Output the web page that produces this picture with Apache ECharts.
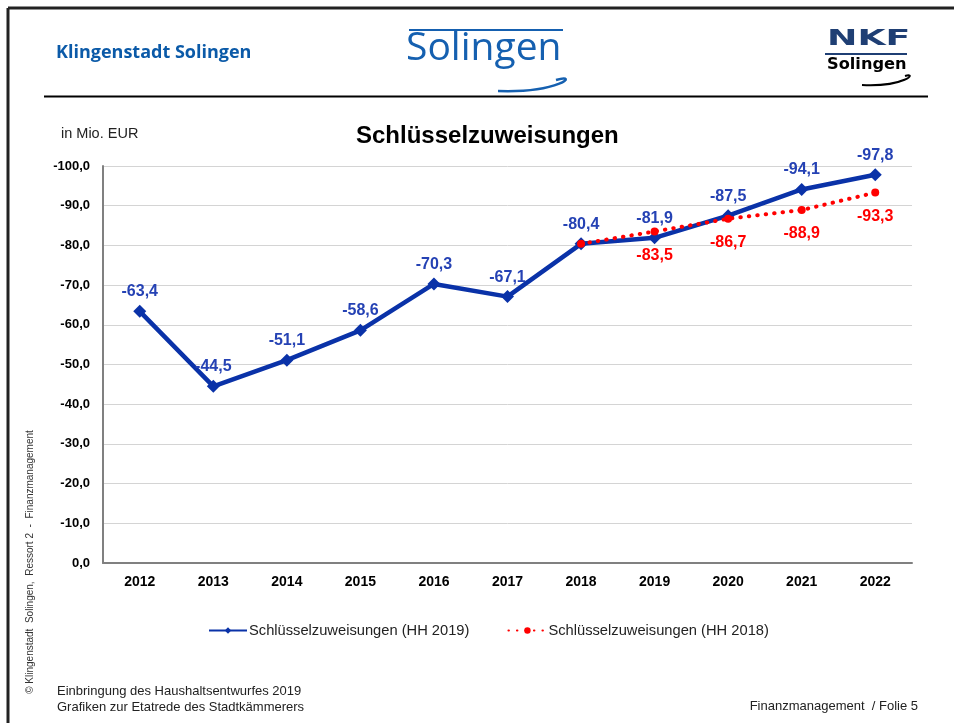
<!DOCTYPE html>
<html>
<head>
<meta charset="utf-8">
<script src="https://cdn.jsdelivr.net/npm/echarts@6/dist/echarts.min.js"></script>
<style>
  html, body { margin: 0; padding: 0; background: #fff; }
  #chart { width: 954px; height: 723px; }
</style>
</head>
<body>
<div id="chart"></div>
<script>
// data (values in Mio. EUR, negative = Zuweisung)
const years = ['2012', '2013', '2014', '2015', '2016', '2017', '2018', '2019', '2020', '2021', '2022']
const hh2019 = [-63.4, -44.5, -51.1, -58.6, -70.3, -67.1, -80.4, -81.9, -87.5, -94.1, -97.8]
const hh2018 = ['-', '-', '-', '-', '-', '-', -80.4, -83.5, -86.7, -88.9, -93.3]
const name2019 = 'Schlüsselzuweisungen (HH 2019)'
const name2018 = 'Schlüsselzuweisungen (HH 2018)'

const blue = '#0a32a8'
const red = '#ff0000'
const fmt = v => v.toFixed(1).replace('.', ',')

const chart = echarts.init(document.getElementById('chart'))

const option = {
    backgroundColor: '#fff',
    animation: false,
    textStyle: { fontFamily: 'Liberation Sans, Arial, sans-serif' },
    title: {
        text: 'Schlüsselzuweisungen',
        left: 351,
        top: 119,
        textStyle: { fontSize: 24, fontWeight: 'bold', color: '#000' }
    },
    legend: {
        top: 618,
        left: 203,
        itemGap: 38,
        itemWidth: 38,
        itemHeight: 8,
        textStyle: { fontSize: 14.7, color: '#222', padding: [0, 0, 0, -3] },
        data: [name2019, name2018]
    },
    grid: { left: 103, right: 42, top: 166, bottom: 160 },
    xAxis: {
        type: 'category',
        data: years,
        axisLine: { lineStyle: { color: '#808080', width: 2 } },
        axisTick: { show: false },
        axisLabel: { fontSize: 14, fontWeight: 'bold', color: '#000', margin: 12 }
    },
    yAxis: {
        type: 'value',
        inverse: true,
        min: -100,
        max: 0,
        interval: 10,
        axisLine: { show: true, lineStyle: { color: '#808080', width: 2 } },
        axisTick: { show: false },
        splitLine: { lineStyle: { color: '#d4d4d4', width: 1 } },
        axisLabel: {
            fontSize: 13, fontWeight: 'bold', color: '#000', margin: 13,
            formatter: v => fmt(v)
        }
    },
    series: [
        {
            name: name2018,
            type: 'line',
            data: hh2018,
            z: 3,
            symbol: 'circle',
            symbolSize: 8,
            itemStyle: { color: red },
            lineStyle: { color: red, width: 4, type: [0.5, 8], cap: 'round' },
            label: {
                show: true,
                position: 'bottom',
                distance: 12,
                fontSize: 16,
                fontWeight: 'bold',
                color: red,
                formatter: p => (p.dataIndex === 6 ? '' : fmt(p.value))
            }
        },
        {
            name: name2019,
            type: 'line',
            data: hh2019,
            z: 2,
            symbol: 'diamond',
            symbolSize: 13,
            itemStyle: { color: blue },
            lineStyle: { color: blue, width: 4.5 },
            label: {
                show: true,
                position: 'top',
                distance: 5,
                fontSize: 16,
                fontWeight: 'bold',
                color: '#2542b4',
                formatter: p => fmt(p.value)
            }
        }
    ],
    graphic: [
        // frame on left and top
        { type: 'line', shape: { x1: 8, y1: 8, x2: 954, y2: 8 }, style: { stroke: '#222', lineWidth: 3 } },
        { type: 'line', shape: { x1: 8, y1: 8, x2: 8, y2: 723 }, style: { stroke: '#222', lineWidth: 3 } },
        // header rule
        { type: 'line', shape: { x1: 44, y1: 96.5, x2: 928, y2: 96.5 }, style: { stroke: '#000', lineWidth: 2 } },
        {
            type: 'text', left: 56, top: 44,
            style: { text: 'Klingenstadt Solingen', fill: '#0b5aa8', font: 'bold 18px "Open Sans", sans-serif' }
        },
        // Solingen logo
        { type: 'line', shape: { x1: 409, y1: 30, x2: 563, y2: 30 }, style: { stroke: '#1560b0', lineWidth: 2 } },
        {
            type: 'text', left: 406, top: 29,
            style: { text: 'Solingen', fill: '#1560b0', font: '39px "Open Sans", sans-serif' }
        },
        {
            type: 'bezierCurve',
            shape: { x1: 498, y1: 91, x2: 556, y2: 80, cpx1: 560, cpy1: 93, cpx2: 580, cpy2: 73 },
            style: { stroke: '#1560b0', lineWidth: 2.5, fill: null }
        },
        // NKF logo
        {
            type: 'text', x: 827, y: 28, scaleX: 1.65,
            style: { text: 'NKF', fill: '#1f3f74', font: 'bold 22px "DejaVu Sans", sans-serif' }
        },
        { type: 'line', shape: { x1: 825, y1: 54, x2: 907, y2: 54 }, style: { stroke: '#1f3f74', lineWidth: 2 } },
        {
            type: 'text', x: 827, y: 58, scaleX: 1.08,
            style: { text: 'Solingen', fill: '#000', font: 'bold 15px "DejaVu Sans", sans-serif' }
        },
        {
            type: 'bezierCurve',
            shape: { x1: 862, y1: 85, x2: 905, y2: 76, cpx1: 905, cpy1: 87, cpx2: 918, cpy2: 72 },
            style: { stroke: '#000', lineWidth: 2, fill: null }
        },
        {
            type: 'text', left: 61, top: 126,
            style: { text: 'in Mio. EUR', fill: '#222', font: '14.5px "Liberation Sans", sans-serif' }
        },
        // vertical copyright
        {
            type: 'text', x: 30, y: 562, rotation: Math.PI / 2,
            style: {
                text: '© Klingenstadt  Solingen,  Ressort 2  -  Finanzmanagement',
                fill: '#333', font: '10px "Liberation Sans", sans-serif',
                align: 'center', verticalAlign: 'middle'
            }
        },
        // footer
        {
            type: 'text', left: 57, top: 683,
            style: {
                text: 'Einbringung des Haushaltsentwurfes 2019\nGrafiken zur Etatrede des Stadtkämmerers',
                fill: '#222', font: '13px "Liberation Sans", sans-serif', lineHeight: 16
            }
        },
        {
            type: 'text', right: 36, top: 700,
            style: { text: 'Finanzmanagement  / Folie 5', fill: '#222', font: '13px "Liberation Sans", sans-serif' }
        }
    ]
}

chart.setOption(option)
</script>
</body>
</html>
